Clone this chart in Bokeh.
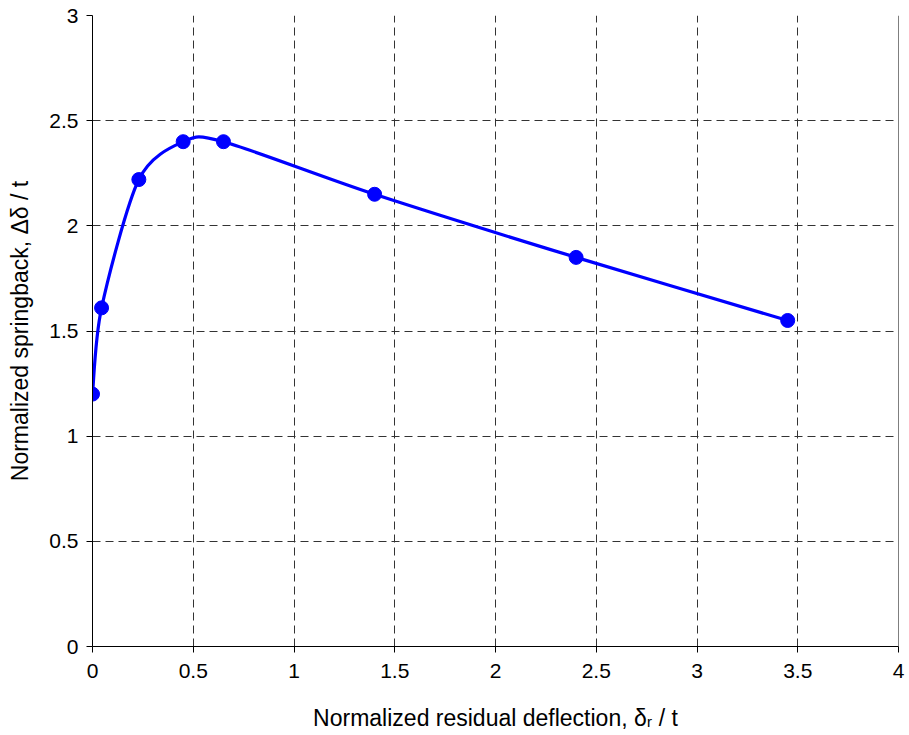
import numpy as np
from bokeh.plotting import figure
from bokeh.models import Range1d, Span, ColumnDataSource, FixedTicker
from bokeh.embed import file_html
from bokeh.resources import INLINE

# data
x_vals = [0.0, 0.045, 0.23, 0.45, 0.65, 1.40, 2.40, 3.45]
y_vals = [1.20, 1.61, 2.22, 2.40, 2.40, 2.15, 1.85, 1.55]
x_ticks = [0, 0.5, 1, 1.5, 2, 2.5, 3, 3.5, 4]
y_ticks = [0, 0.5, 1, 1.5, 2, 2.5, 3]
x_title = "Normalized residual deflection, δᵣ / t"
y_title = "Normalized springback, Δδ / t"

W, H = 909, 735
L, R, T, B = 92, 11, 15, 89

p = figure(width=W, height=H, output_backend="svg", toolbar_location=None,
           x_range=Range1d(0, 4), y_range=Range1d(0, 3),
           min_border_left=L, min_border_right=R, min_border_top=T, min_border_bottom=B)
p.outline_line_color = None
p.background_fill_color = "white"
p.border_fill_color = "white"

for ax, ticks in ((p.xaxis, x_ticks), (p.yaxis, y_ticks)):
    ax.ticker = FixedTicker(ticks=ticks)
    ax.axis_line_color = "black"
    ax.axis_line_width = 1
    ax.major_tick_line_color = "black"
    ax.major_tick_out = 6
    ax.major_tick_in = 0
    ax.minor_tick_line_color = None
    ax.major_label_text_font = "Liberation Sans"
    ax.major_label_text_font_size = "21px"
    ax.major_label_text_color = "black"
    ax.axis_label_text_font = "Liberation Sans"
    ax.axis_label_text_font_size = "23px"
    ax.axis_label_text_font_style = "normal"
    ax.axis_label_text_color = "black"
p.xaxis.major_label_standoff = 11
p.yaxis.major_label_standoff = 8
p.xaxis.major_label_overrides = {0: "0", 1: "1", 2: "2", 3: "3", 4: "4"}
p.yaxis.major_label_overrides = {0: "0", 1: "1", 2: "2", 3: "3"}
p.xaxis.axis_label = x_title
p.yaxis.axis_label = y_title
p.xaxis.axis_label_standoff = 24
p.yaxis.axis_label_standoff = 13

for g in (p.xgrid, p.ygrid):
    g.grid_line_color = "#333333"
    g.grid_line_dash = "8 5"
    g.grid_line_width = 1

p.add_layout(Span(location=4, dimension="height", line_color="black", line_width=1))

# smooth curve (Catmull-Rom style Bezier segments through data points)
xs = np.array(x_vals); ys = np.array(y_vals)
n = len(xs)
x0, y0, x1, y1, cx0, cy0, cx1, cy1 = [], [], [], [], [], [], [], []
k = 7.0
for i in range(n - 1):
    pm = max(i - 1, 0); pp = min(i + 2, n - 1)
    x0.append(xs[i]); y0.append(ys[i]); x1.append(xs[i + 1]); y1.append(ys[i + 1])
    cx0.append(xs[i] + (xs[i + 1] - xs[pm]) / k); cy0.append(ys[i] + (ys[i + 1] - ys[pm]) / k)
    cx1.append(xs[i + 1] - (xs[pp] - xs[i]) / k); cy1.append(ys[i + 1] - (ys[pp] - ys[i]) / k)
src = ColumnDataSource(dict(x0=x0, y0=y0, x1=x1, y1=y1, cx0=cx0, cy0=cy0, cx1=cx1, cy1=cy1))
p.bezier(x0="x0", y0="y0", x1="x1", y1="y1", cx0="cx0", cy0="cy0", cx1="cx1", cy1="cy1",
         source=src, line_color="#0000FF", line_width=3.2)
p.scatter(x_vals, y_vals, size=14, fill_color="#0000FF", line_color="#0000FF")

open("out.html", "w").write(file_html(p, INLINE))
